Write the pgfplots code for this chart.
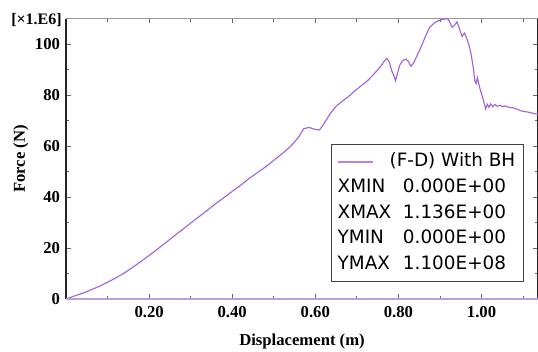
\documentclass[border=0pt]{standalone}
\usepackage{pgfplots}
\pgfplotsset{compat=1.18}
\usepackage{fontspec}
\setmainfont{Liberation Serif}
\newfontfamily\legfont{DejaVu Sans}
\newfontfamily\tickfont{Liberation Serif Bold}
\definecolor{curve}{RGB}{160,100,222}
\definecolor{botaxis}{RGB}{185,160,215}
\pgfplotsset{mylegline/.style={legend image code/.code={\draw[line width=1.6pt, color=curve!80] (0pt,0pt) -- (26pt,0pt);}}}
\begin{document}
\begin{tikzpicture}
\useasboundingbox (-49.5pt,-39pt) rectangle (354pt,224.3pt);
\begin{axis}[
  at={(0,0)}, anchor=south west,
  scale only axis, width=354pt, height=210.4pt,
  xmin=0, xmax=1.136, ymin=0, ymax=110,
  xtick={0.2,0.4,0.6,0.8,1.0},
  xticklabels={\textbf{0.20},\textbf{0.40},\textbf{0.60},\textbf{0.80},\textbf{1.00}},
  minor xtick={0.1,0.3,0.5,0.7,0.9,1.1},
  ytick={0,20,40,60,80,100},
  yticklabels={\textbf{0},\textbf{20},\textbf{40},\textbf{60},\textbf{80},\textbf{100}},
  minor ytick={10,30,50,70,90},
  tick align=inside,
  major tick length=3.5pt, minor tick length=2.5pt,
  tick style={line width=0.6pt, black!60},
  axis line style={line width=0.9pt},
  separate axis lines,
  x axis line style={black!40},
  y axis line style={black!85},
  /pgf/number format/assume math mode=true,
  ticklabel style={font=\fontsize{12.5}{14}\selectfont\bfseries},
  yticklabel style={xshift=-1pt},
  xticklabel style={yshift=-2pt},
  xlabel={Displacement (m)},
  ylabel={Force (N)},
  label style={font=\fontsize{12.5}{14}\selectfont\bfseries},
  xlabel style={yshift=-5pt},
  ylabel style={yshift=-2pt},
  legend style={at={(0.5614,0.5526)}, anchor=north west, draw=black!75, line width=0.8pt,
    font=\legfont\fontsize{13.8}{16}\selectfont, row sep=1.8pt, inner xsep=4pt, inner ysep=4pt,
    nodes={text height=10.5pt, text depth=3pt}},
  legend cell align=left,
  clip=false,
]
\addplot[color=curve, line width=0.85pt, mylegline] coordinates {
(0,0) (0.02,1.2) (0.04,2.3) (0.06,3.6) (0.08,5.0) (0.10,6.6) (0.12,8.3) (0.14,10.2)
(0.16,12.4) (0.18,14.7) (0.20,17.1) (0.22,19.6) (0.24,22.1) (0.26,24.7) (0.28,27.2)
(0.30,29.8) (0.32,32.3) (0.34,34.8) (0.36,37.4) (0.38,39.8) (0.40,42.2) (0.42,44.6)
(0.44,47.2) (0.46,49.5) (0.48,51.8) (0.50,54.4) (0.52,57.0) (0.54,59.8) (0.56,63.5)
(0.572,66.8) (0.585,67.3) (0.598,66.6) (0.610,66.3) (0.62,68.5) (0.635,72.5) (0.650,75.6)
(0.665,77.6) (0.68,79.4) (0.695,81.6) (0.71,83.6) (0.725,85.5) (0.74,88.0) (0.755,90.8)
(0.765,93.0) (0.772,94.4) (0.778,93.0) (0.784,89.5) (0.789,87.6) (0.793,85.6) (0.797,88.0)
(0.803,91.6) (0.81,93.5) (0.818,94.1) (0.824,93.2) (0.830,91.3) (0.836,92.4) (0.845,95.5)
(0.855,99.0) (0.865,103.0) (0.875,106.5) (0.888,108.5) (0.900,109.4) (0.912,109.8)
(0.918,110.0) (0.923,108.8) (0.929,106.6) (0.935,107.3) (0.941,108.7) (0.947,106.0)
(0.953,103.0) (0.959,104.3) (0.964,102.5) (0.970,99.5) (0.975,96.0) (0.980,91.0)
(0.984,85.5) (0.987,84.5) (0.990,86.8) (0.994,84.0) (0.998,81.5) (1.002,79.5)
(1.006,77.0) (1.010,74.6) (1.014,76.4) (1.018,75.2) (1.022,76.5) (1.027,75.4)
(1.032,76.3) (1.038,75.6) (1.044,76.0) (1.050,75.5) (1.058,75.7) (1.066,75.2)
(1.075,75.0) (1.085,74.5) (1.095,73.8) (1.105,73.5) (1.115,73.2) (1.125,72.8) (1.136,72.4)
};
\addlegendentry{\hspace*{10pt}(F-D) With BH\rule[-11pt]{0pt}{1pt}}
\addlegendimage{legend image code/.code={}}
\addlegendentry{\hspace*{-29pt}\makebox[49pt][l]{XMIN}0.000E+00}
\addlegendimage{legend image code/.code={}}
\addlegendentry{\hspace*{-29pt}\makebox[49pt][l]{XMAX}1.136E+00}
\addlegendimage{legend image code/.code={}}
\addlegendentry{\hspace*{-29pt}\makebox[49pt][l]{YMIN}0.000E+00}
\addlegendimage{legend image code/.code={}}
\addlegendentry{\hspace*{-29pt}\makebox[49pt][l]{YMAX}1.100E+08}
\draw[botaxis, line width=0.9pt] (rel axis cs:0,0) -- (rel axis cs:1,0);
\node[anchor=east, font=\fontsize{12}{13}\selectfont\bfseries, inner sep=0pt]
  at (rel axis cs:0,1) [xshift=-3pt, yshift=-1pt] {[×1.E6]};
\end{axis}
\end{tikzpicture}
\end{document}
